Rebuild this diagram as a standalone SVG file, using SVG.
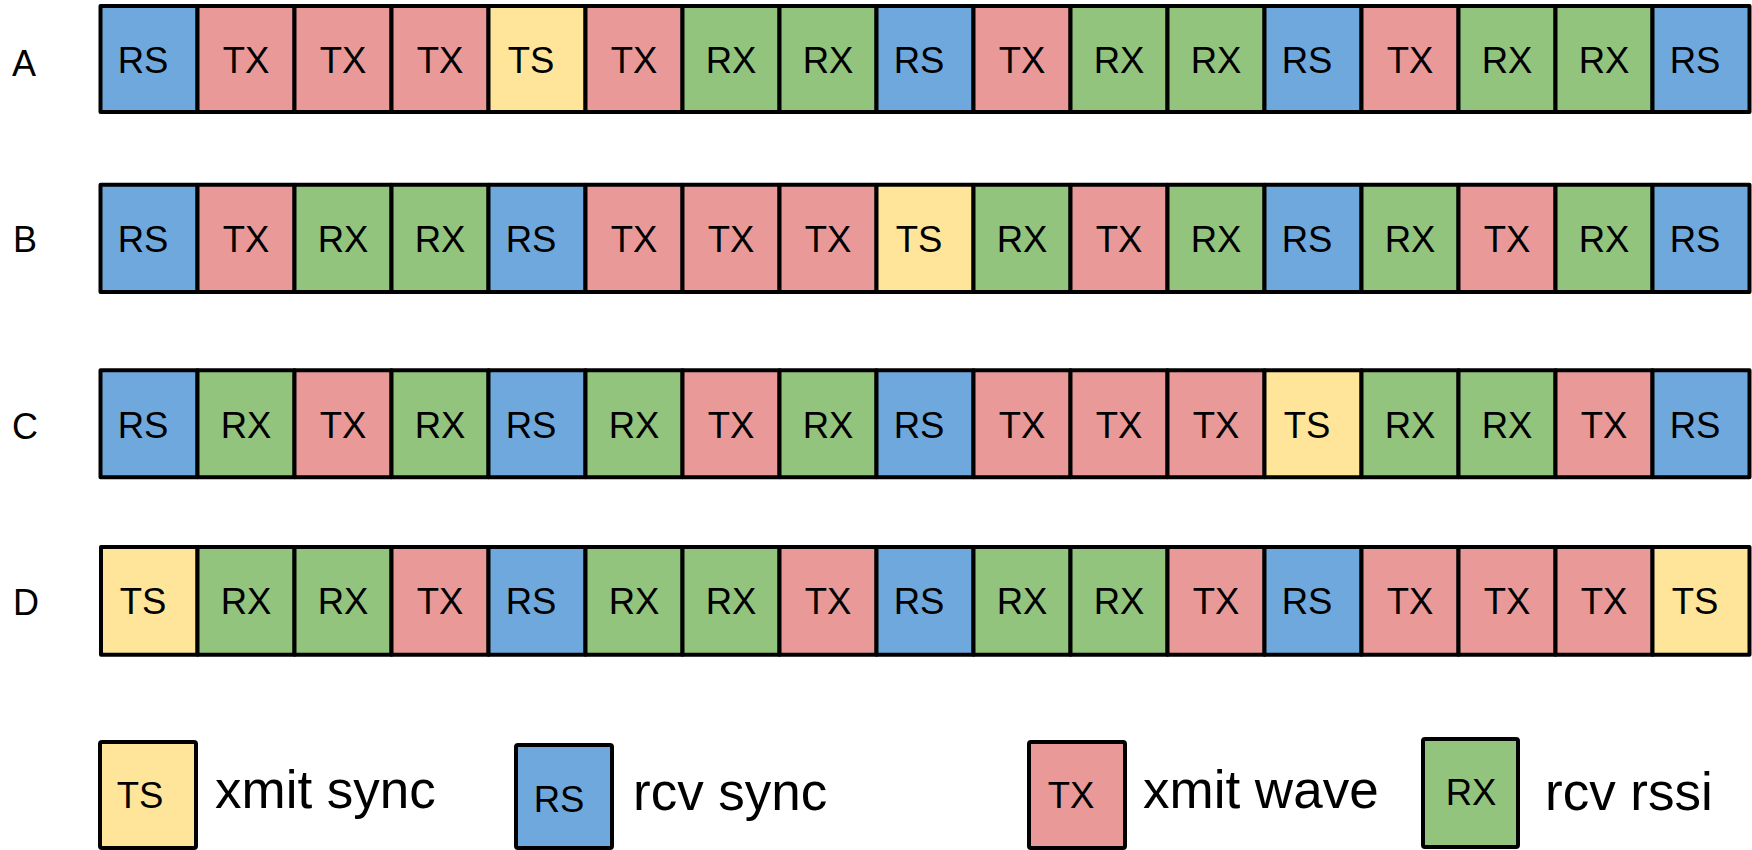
<svg xmlns="http://www.w3.org/2000/svg" width="1752" height="850" viewBox="0 0 1752 850">
<style>
.c{stroke:#000;stroke-width:4;stroke-linejoin:round}
.rs{fill:#6fa8dc}.tx{fill:#ea9999}.rx{fill:#93c47d}.ts{fill:#ffe599}
text{font-family:"Liberation Sans",Arial,Helvetica,sans-serif;fill:#000}
.t{font-size:36.5px;text-anchor:middle}
.lbl{font-size:36px}
.leg{font-size:53px}
</style>
<rect width="1752" height="850" fill="#fff"/>
<g id="rowA">
<text class="lbl" x="12" y="76">A</text>
<rect class="c rs" x="100.5" y="6" width="97" height="106"/><text class="t" x="143" y="73">RS</text>
<rect class="c tx" x="197.5" y="6" width="97" height="106"/><text class="t" x="246" y="73">TX</text>
<rect class="c tx" x="294.5" y="6" width="97" height="106"/><text class="t" x="343" y="73">TX</text>
<rect class="c tx" x="391.5" y="6" width="97" height="106"/><text class="t" x="440" y="73">TX</text>
<rect class="c ts" x="488.5" y="6" width="97" height="106"/><text class="t" x="531" y="73">TS</text>
<rect class="c tx" x="585.5" y="6" width="97" height="106"/><text class="t" x="634" y="73">TX</text>
<rect class="c rx" x="682.5" y="6" width="97" height="106"/><text class="t" x="731" y="73">RX</text>
<rect class="c rx" x="779.5" y="6" width="97" height="106"/><text class="t" x="828" y="73">RX</text>
<rect class="c rs" x="876.5" y="6" width="97" height="106"/><text class="t" x="919" y="73">RS</text>
<rect class="c tx" x="973.5" y="6" width="97" height="106"/><text class="t" x="1022" y="73">TX</text>
<rect class="c rx" x="1070.5" y="6" width="97" height="106"/><text class="t" x="1119" y="73">RX</text>
<rect class="c rx" x="1167.5" y="6" width="97" height="106"/><text class="t" x="1216" y="73">RX</text>
<rect class="c rs" x="1264.5" y="6" width="97" height="106"/><text class="t" x="1307" y="73">RS</text>
<rect class="c tx" x="1361.5" y="6" width="97" height="106"/><text class="t" x="1410" y="73">TX</text>
<rect class="c rx" x="1458.5" y="6" width="97" height="106"/><text class="t" x="1507" y="73">RX</text>
<rect class="c rx" x="1555.5" y="6" width="97" height="106"/><text class="t" x="1604" y="73">RX</text>
<rect class="c rs" x="1652.5" y="6" width="97" height="106"/><text class="t" x="1695" y="73">RS</text>
</g>
<g id="rowB">
<text class="lbl" x="13" y="251.5">B</text>
<rect class="c rs" x="100.5" y="184.7" width="97" height="107.3"/><text class="t" x="143" y="251.5">RS</text>
<rect class="c tx" x="197.5" y="184.7" width="97" height="107.3"/><text class="t" x="246" y="251.5">TX</text>
<rect class="c rx" x="294.5" y="184.7" width="97" height="107.3"/><text class="t" x="343" y="251.5">RX</text>
<rect class="c rx" x="391.5" y="184.7" width="97" height="107.3"/><text class="t" x="440" y="251.5">RX</text>
<rect class="c rs" x="488.5" y="184.7" width="97" height="107.3"/><text class="t" x="531" y="251.5">RS</text>
<rect class="c tx" x="585.5" y="184.7" width="97" height="107.3"/><text class="t" x="634" y="251.5">TX</text>
<rect class="c tx" x="682.5" y="184.7" width="97" height="107.3"/><text class="t" x="731" y="251.5">TX</text>
<rect class="c tx" x="779.5" y="184.7" width="97" height="107.3"/><text class="t" x="828" y="251.5">TX</text>
<rect class="c ts" x="876.5" y="184.7" width="97" height="107.3"/><text class="t" x="919" y="251.5">TS</text>
<rect class="c rx" x="973.5" y="184.7" width="97" height="107.3"/><text class="t" x="1022" y="251.5">RX</text>
<rect class="c tx" x="1070.5" y="184.7" width="97" height="107.3"/><text class="t" x="1119" y="251.5">TX</text>
<rect class="c rx" x="1167.5" y="184.7" width="97" height="107.3"/><text class="t" x="1216" y="251.5">RX</text>
<rect class="c rs" x="1264.5" y="184.7" width="97" height="107.3"/><text class="t" x="1307" y="251.5">RS</text>
<rect class="c rx" x="1361.5" y="184.7" width="97" height="107.3"/><text class="t" x="1410" y="251.5">RX</text>
<rect class="c tx" x="1458.5" y="184.7" width="97" height="107.3"/><text class="t" x="1507" y="251.5">TX</text>
<rect class="c rx" x="1555.5" y="184.7" width="97" height="107.3"/><text class="t" x="1604" y="251.5">RX</text>
<rect class="c rs" x="1652.5" y="184.7" width="97" height="107.3"/><text class="t" x="1695" y="251.5">RS</text>
</g>
<g id="rowC">
<text class="lbl" x="12" y="439">C</text>
<rect class="c rs" x="100.5" y="370.3" width="97" height="107"/><text class="t" x="143" y="437.7">RS</text>
<rect class="c rx" x="197.5" y="370.3" width="97" height="107"/><text class="t" x="246" y="437.7">RX</text>
<rect class="c tx" x="294.5" y="370.3" width="97" height="107"/><text class="t" x="343" y="437.7">TX</text>
<rect class="c rx" x="391.5" y="370.3" width="97" height="107"/><text class="t" x="440" y="437.7">RX</text>
<rect class="c rs" x="488.5" y="370.3" width="97" height="107"/><text class="t" x="531" y="437.7">RS</text>
<rect class="c rx" x="585.5" y="370.3" width="97" height="107"/><text class="t" x="634" y="437.7">RX</text>
<rect class="c tx" x="682.5" y="370.3" width="97" height="107"/><text class="t" x="731" y="437.7">TX</text>
<rect class="c rx" x="779.5" y="370.3" width="97" height="107"/><text class="t" x="828" y="437.7">RX</text>
<rect class="c rs" x="876.5" y="370.3" width="97" height="107"/><text class="t" x="919" y="437.7">RS</text>
<rect class="c tx" x="973.5" y="370.3" width="97" height="107"/><text class="t" x="1022" y="437.7">TX</text>
<rect class="c tx" x="1070.5" y="370.3" width="97" height="107"/><text class="t" x="1119" y="437.7">TX</text>
<rect class="c tx" x="1167.5" y="370.3" width="97" height="107"/><text class="t" x="1216" y="437.7">TX</text>
<rect class="c ts" x="1264.5" y="370.3" width="97" height="107"/><text class="t" x="1307" y="437.7">TS</text>
<rect class="c rx" x="1361.5" y="370.3" width="97" height="107"/><text class="t" x="1410" y="437.7">RX</text>
<rect class="c rx" x="1458.5" y="370.3" width="97" height="107"/><text class="t" x="1507" y="437.7">RX</text>
<rect class="c tx" x="1555.5" y="370.3" width="97" height="107"/><text class="t" x="1604" y="437.7">TX</text>
<rect class="c rs" x="1652.5" y="370.3" width="97" height="107"/><text class="t" x="1695" y="437.7">RS</text>
</g>
<g id="rowD">
<text class="lbl" x="13" y="615">D</text>
<rect class="c ts" x="101" y="547" width="96.5" height="107.7"/><text class="t" x="143" y="613.5">TS</text>
<rect class="c rx" x="197.5" y="547" width="97" height="107.7"/><text class="t" x="246" y="613.5">RX</text>
<rect class="c rx" x="294.5" y="547" width="97" height="107.7"/><text class="t" x="343" y="613.5">RX</text>
<rect class="c tx" x="391.5" y="547" width="97" height="107.7"/><text class="t" x="440" y="613.5">TX</text>
<rect class="c rs" x="488.5" y="547" width="97" height="107.7"/><text class="t" x="531" y="613.5">RS</text>
<rect class="c rx" x="585.5" y="547" width="97" height="107.7"/><text class="t" x="634" y="613.5">RX</text>
<rect class="c rx" x="682.5" y="547" width="97" height="107.7"/><text class="t" x="731" y="613.5">RX</text>
<rect class="c tx" x="779.5" y="547" width="97" height="107.7"/><text class="t" x="828" y="613.5">TX</text>
<rect class="c rs" x="876.5" y="547" width="97" height="107.7"/><text class="t" x="919" y="613.5">RS</text>
<rect class="c rx" x="973.5" y="547" width="97" height="107.7"/><text class="t" x="1022" y="613.5">RX</text>
<rect class="c rx" x="1070.5" y="547" width="97" height="107.7"/><text class="t" x="1119" y="613.5">RX</text>
<rect class="c tx" x="1167.5" y="547" width="97" height="107.7"/><text class="t" x="1216" y="613.5">TX</text>
<rect class="c rs" x="1264.5" y="547" width="97" height="107.7"/><text class="t" x="1307" y="613.5">RS</text>
<rect class="c tx" x="1361.5" y="547" width="97" height="107.7"/><text class="t" x="1410" y="613.5">TX</text>
<rect class="c tx" x="1458.5" y="547" width="97" height="107.7"/><text class="t" x="1507" y="613.5">TX</text>
<rect class="c tx" x="1555.5" y="547" width="97" height="107.7"/><text class="t" x="1604" y="613.5">TX</text>
<rect class="c ts" x="1652.5" y="547" width="97" height="107.7"/><text class="t" x="1695" y="613.5">TS</text>
</g>
<g id="legend-ts">
<rect class="c ts" x="100" y="742" width="96" height="106" rx="2"/><text class="t" x="140" y="808">TS</text>
<text class="leg" x="215" y="808">xmit sync</text>
</g>
<g id="legend-rs">
<rect class="c rs" x="516" y="745" width="96" height="103" rx="2"/><text class="t" x="559" y="811.5">RS</text>
<text class="leg" x="633" y="810">rcv sync</text>
</g>
<g id="legend-tx">
<rect class="c tx" x="1029" y="742" width="96" height="106" rx="2"/><text class="t" x="1071" y="808">TX</text>
<text class="leg" x="1143" y="808">xmit wave</text>
</g>
<g id="legend-rx">
<rect class="c rx" x="1423" y="739" width="95" height="108" rx="2"/><text class="t" x="1471" y="805">RX</text>
<text class="leg" x="1545" y="810">rcv rssi</text>
</g>
</svg>
